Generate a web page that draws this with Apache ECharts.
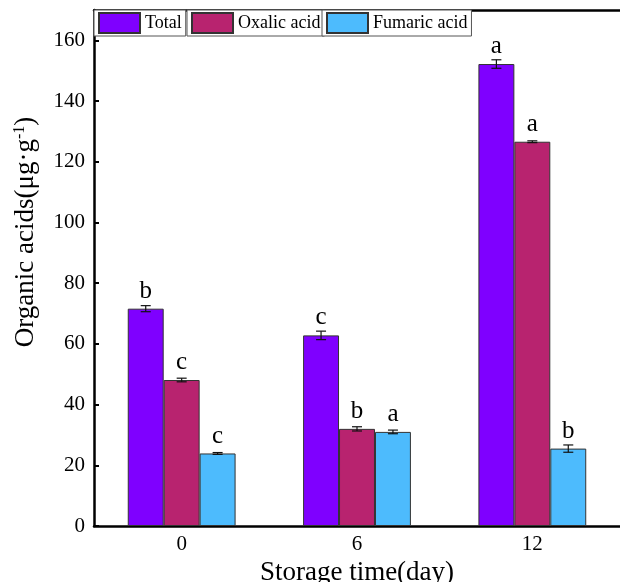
<!DOCTYPE html>
<html>
<head>
<meta charset="utf-8">
<script src="https://cdn.jsdelivr.net/npm/echarts@6/dist/echarts.min.js"></script>
<style>html,body{margin:0;padding:0;background:#fff}#c{width:620px;height:582px}</style>
</head>
<body>
<div id="c"></div>
<script>
var categories = ['0', '6', '12'];
var seriesNames = ['Total', 'Oxalic acid', 'Fumaric acid'];
var totalValues = [71.6, 62.8, 152.2];
var oxalicValues = [48.1, 32.0, 126.6];
var fumaricValues = [23.9, 31.0, 25.5];
var totalErrors = [1.0, 1.4, 1.4];
var oxalicErrors = [0.6, 0.7, 0.3];
var fumaricErrors = [0.3, 0.6, 1.2];
var totalLetters = ['b', 'c', 'a'];
var oxalicLetters = ['c', 'b', 'a'];
var fumaricLetters = ['c', 'a', 'b'];
var yTicks = [0, 20, 40, 60, 80, 100, 120, 140, 160];

var colors = ['#7F00FF', '#B8236F', '#4DBBFD'];
var FONT = '"Liberation Serif", "Times New Roman", serif';
var CAT_GAP = 0.385;
var values = [totalValues, oxalicValues, fumaricValues];
var errors = [totalErrors, oxalicErrors, fumaricErrors];
var letters = [totalLetters, oxalicLetters, fumaricLetters];

var series = [];
values.forEach(function (vals, s) {
  series.push({
    name: seriesNames[s],
    type: 'bar',
    data: vals,
    barGap: '0%',
    barCategoryGap: (CAT_GAP * 100) + '%',
    itemStyle: { color: colors[s], borderColor: '#333', borderWidth: 1 },
    label: {
      show: true, position: 'top', distance: 5,
      fontFamily: FONT, fontSize: 25, color: '#000',
      formatter: function (p) { return letters[s][p.dataIndex]; }
    },
    z: 2
  });
});
values.forEach(function (vals, s) {
  series.push({
    type: 'custom',
    name: 'err' + s,
    data: vals.map(function (v, i) { return [i, v, errors[s][i]]; }),
    encode: { x: 0, y: 1 },
    z: 5,
    silent: true,
    renderItem: function (params, api) {
      var ci = api.value(0), v = api.value(1), e = api.value(2);
      var band = api.size([1, 0])[0];
      var bw = band * (1 - CAT_GAP) / 3;
      var c = api.coord([ci, v]);
      var x = c[0] + (s - 1) * bw;
      var top = api.coord([ci, v + e])[1];
      var bot = api.coord([ci, v - e])[1];
      var cap = 5;
      var st = { stroke: '#111', lineWidth: 1.2 };
      return {
        type: 'group',
        children: [
          { type: 'line', shape: { x1: x, y1: top, x2: x, y2: bot }, style: st },
          { type: 'line', shape: { x1: x - cap, y1: top, x2: x + cap, y2: top }, style: st },
          { type: 'line', shape: { x1: x - cap, y1: bot, x2: x + cap, y2: bot }, style: st }
        ]
      };
    }
  });
});

var legendLefts = [94, 187, 322];
var legends = seriesNames.map(function (n, i) {
  return {
    data: [n],
    left: legendLefts[i], top: 10,
    orient: 'horizontal',
    itemWidth: 41, itemHeight: 20,
    padding: [2, 4, 2, 4],
    borderColor: '#555', borderWidth: 1, borderRadius: 0,
    backgroundColor: '#fff',
    icon: 'rect',
    selectedMode: false,
    textStyle: { fontFamily: FONT, fontSize: 18, color: '#000' },
    z: 10
  };
});

var chart = echarts.init(document.getElementById('c'), null, { renderer: 'canvas' });
chart.setOption({
  animation: false,
  backgroundColor: '#fff',
  legend: legends,
  grid: { left: 94, right: 0, top: 10, bottom: 56, containLabel: false, outerBoundsMode: 'none' },
  xAxis: [{
    type: 'category',
    data: categories,
    name: 'Storage time(day)',
    nameLocation: 'middle',
    nameGap: 27,
    nameTextStyle: { fontFamily: FONT, fontSize: 27, color: '#000' },
    axisLine: { lineStyle: { color: '#000', width: 2.5 } },
    axisTick: { inside: true, alignWithLabel: true, length: 5, lineStyle: { color: '#000', width: 2 } },
    axisLabel: { fontFamily: FONT, fontSize: 21, color: '#000', margin: 8 },
    splitLine: { show: false }
  }, {
    type: 'category',
    data: categories,
    position: 'top',
    axisLine: { lineStyle: { color: '#000', width: 2.5 } },
    axisTick: { show: false },
    axisLabel: { show: false }
  }],
  yAxis: {
    type: 'value',
    min: 0, max: 170, interval: 20,
    name: 'Organic acids(μg·g{sup|-1})',
    nameLocation: 'middle',
    nameGap: 55,
    nameRotate: 90,
    nameTextStyle: {
      fontFamily: FONT, fontSize: 27, color: '#000',
      padding: [0, 0, 0, 72],
      rich: { sup: { fontFamily: FONT, fontSize: 16, color: '#000', verticalAlign: 'top' } }
    },
    axisLine: { show: true, lineStyle: { color: '#000', width: 2.5 } },
    axisTick: { show: true, inside: true, length: 5, lineStyle: { color: '#000', width: 2 } },
    axisLabel: {
      fontFamily: FONT, fontSize: 21, color: '#000', margin: 9, showMaxLabel: false,
      formatter: function (v) { return yTicks.indexOf(v) >= 0 ? String(v) : ''; }
    },
    splitLine: { show: false }
  },
  series: series
});
</script>
</body>
</html>
